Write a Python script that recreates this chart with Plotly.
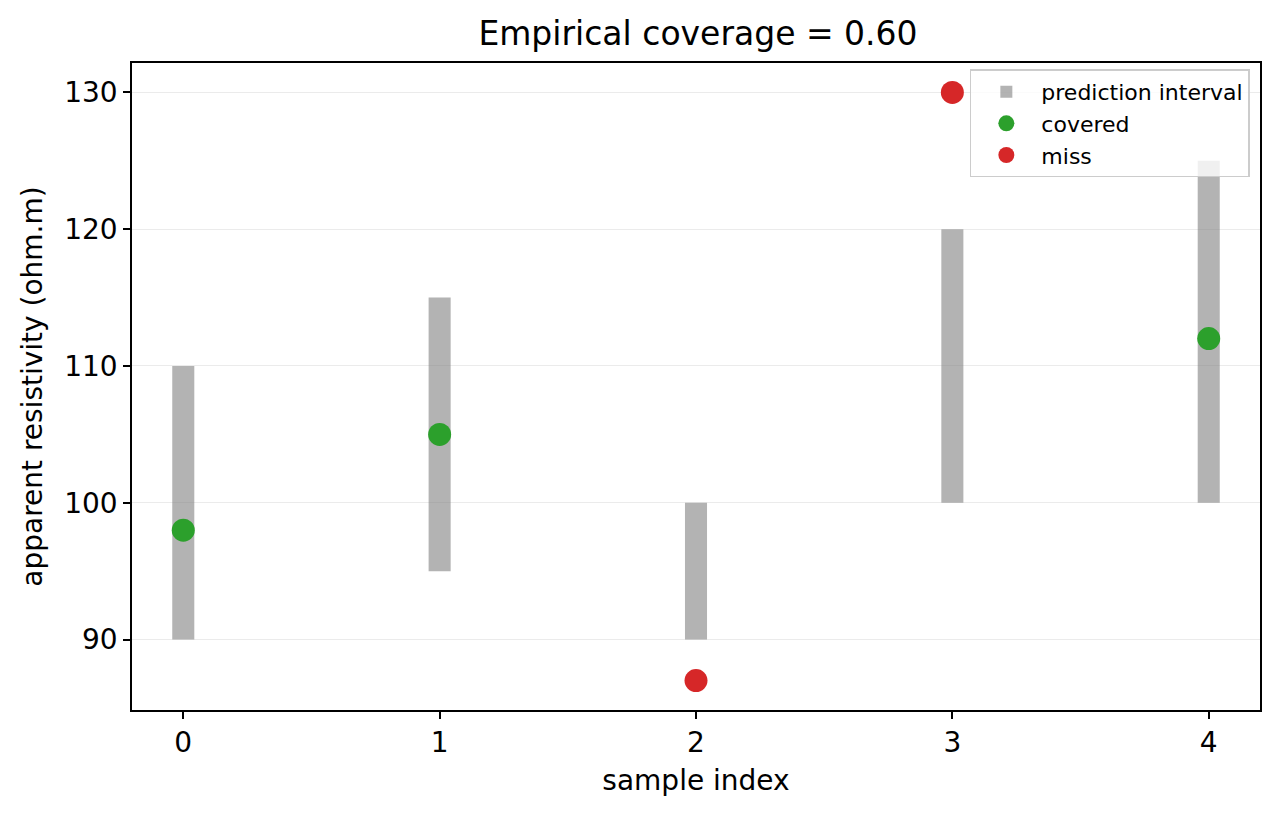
import plotly.graph_objects as go

# data
idx = [0, 1, 2, 3, 4]
lower = [90, 95, 90, 100, 100]
upper = [110, 115, 100, 120, 125]
y_obs = [98, 105, 87, 130, 112]

covered = [l <= y <= u for l, y, u in zip(lower, y_obs, upper)]
cov_x = [i for i, c in zip(idx, covered) if c]
cov_y = [y for y, c in zip(y_obs, covered) if c]
miss_x = [i for i, c in zip(idx, covered) if not c]
miss_y = [y for y, c in zip(y_obs, covered) if not c]
coverage = sum(covered) / len(covered)

fig = go.Figure()

# intervals as floating bars
fig.add_trace(go.Bar(x=idx, y=[u - l for l, u in zip(lower, upper)], base=lower,
                     width=0.086, marker=dict(color="rgba(128,128,128,0.6)", line=dict(width=0)),
                     name="prediction interval"))

fig.add_trace(go.Scatter(x=cov_x, y=cov_y, mode="markers",
                         marker=dict(color="#2ca02c", size=23), name="covered"))
fig.add_trace(go.Scatter(x=miss_x, y=miss_y, mode="markers",
                         marker=dict(color="#d62728", size=23), name="miss"))

axis_common = dict(showline=True, linecolor="black", linewidth=1.6, mirror=True,
                   ticks="outside", ticklen=7, tickwidth=1.6, tickcolor="black",
                   tickfont=dict(size=28, color="black"), zeroline=False)

fig.update_layout(
    width=1266, height=803,
    margin=dict(l=124, r=14, t=55, b=101),
    plot_bgcolor="white", paper_bgcolor="white",
    font=dict(family="DejaVu Sans", color="black"),
    title=dict(text=f"Empirical coverage = {coverage:.2f}", x=0.545, xanchor="center",
               y=0.968, yanchor="middle", font=dict(size=33)),
    xaxis=dict(range=[-0.2, 4.2], tickvals=idx, showgrid=False,
               title=dict(text="sample index", font=dict(size=28), standoff=12), **axis_common),
    yaxis=dict(range=[84.85, 132.15], tickvals=[90, 100, 110, 120, 130], showgrid=True,
               gridcolor="rgba(0,0,0,0.08)", gridwidth=1,
               title=dict(text="apparent resistivity (ohm.m)", font=dict(size=28), standoff=13),
               **axis_common),
    legend=dict(x=0.991, y=0.99, xanchor="right", yanchor="top",
                bgcolor="rgba(255,255,255,0.8)", bordercolor="#cccccc", borderwidth=1.5,
                font=dict(size=22), tracegroupgap=0, itemwidth=60),
    showlegend=True,
)

fig.write_html("out.html")
